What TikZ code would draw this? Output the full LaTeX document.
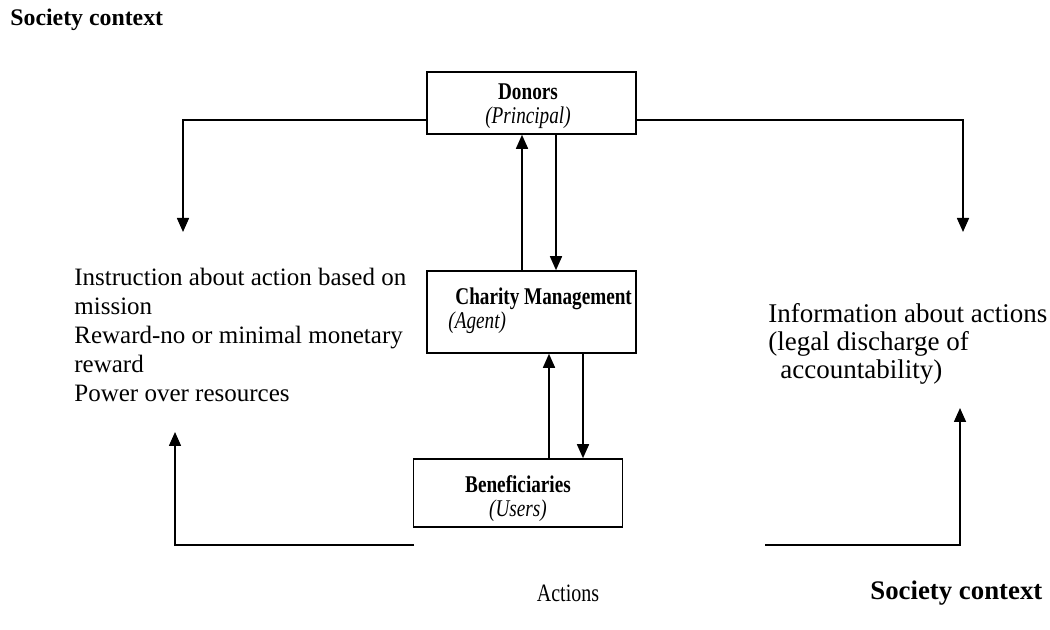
\documentclass[tikz,border=0pt]{standalone}
\usepackage{fontspec}
\setmainfont{Liberation Serif}
\newfontfamily\boxfont[FakeStretch=0.8]{Liberation Serif}
\usetikzlibrary{calc, arrows.meta}

\tikzset{
  actor/.style={draw, thick, minimum width=104.5pt, inner sep=0pt},
  boxtext/.style={inner sep=0pt, font=\boxfont\fontsize{12}{12}\selectfont},
  flow/.style={thick, -{Triangle[width=6pt,length=7pt]}},
  note/.style={align=left, inner sep=0pt},
}

\begin{document}
\begin{tikzpicture}[x=0.5pt, y=-0.5pt, font=\fontsize{12.5}{14.5}\selectfont]
			\useasboundingbox (0,0) rectangle (1050,630);
			% boxes
			\node[actor, minimum height=31pt] (donors) at (531.5,103) {};
			\node[actor, minimum height=41pt] (charity) at (531.5,312) {};
			\node[actor, minimum height=34pt] (users) at (518,493) {};
			\node[boxtext, align=center] (donorstext) at (528,106) {\textbf{Donors}\\\textit{(Principal)}};
			\node[boxtext, align=left, anchor=west] (charitytext) at (448,311) {\hspace*{3.5pt}\textbf{Charity Management}\\\textit{(Agent)}};
			\node[boxtext, align=center] (userstext) at (518,499) {\textbf{Beneficiaries}\\\textit{(Users)}};
			% labels
			\node[anchor=west, inner sep=0pt, font=\fontsize{11.9}{14}\selectfont\bfseries] (soctop) at (10,20) {Society context};
			\node[anchor=west, inner sep=0pt, font=\fontsize{13.4}{15}\selectfont\bfseries] (socbot) at (870,593) {Society context};
			\node[boxtext, font=\boxfont\fontsize{12.5}{14}\selectfont] (actions) at (568,593) {Actions};
			\node[note, anchor=north west] (instr) at (74,268) {Instruction about action based on\\ mission\\ Reward-no or minimal monetary\\ reward\\ Power over resources};
			\node[note, anchor=north west, font=\fontsize{13.5}{14}\selectfont] (info) at (768,303) {Information about actions\\ (legal discharge of\\ \hspace*{6pt}accountability)};
			% corner points
			\coordinate (tl) at (183,120);
			\coordinate (tlend) at (183,232);
			\coordinate (tr) at (963,120);
			\coordinate (trend) at (963,232);
			\coordinate (bl) at (175,545);
			\coordinate (blstart) at (414,545);
			\coordinate (blend) at (175,432);
			\coordinate (br) at (960,545);
			\coordinate (brstart) at (765,545);
			\coordinate (brend) at (960,408);
			% side arrows
			\draw[flow] (donors.west |- tl) -- (tl) -- (tlend);
			\draw[flow] (donors.east |- tr) -- (tr) -- (trend);
			\draw[flow] (blstart) -- (bl) -- (blend);
			\draw[flow] (brstart) -- (br) -- (brend);
			% middle arrows
			\draw[flow] (charity.north -| 522,0) -- (donors.south -| 522,0);
			\draw[flow] (donors.south -| 556,0) -- (charity.north -| 556,0);
			\draw[flow] (users.north -| 549,0) -- (charity.south -| 549,0);
			\draw[flow] (charity.south -| 583,0) -- (users.north -| 583,0);
		\end{tikzpicture}
\end{document}
